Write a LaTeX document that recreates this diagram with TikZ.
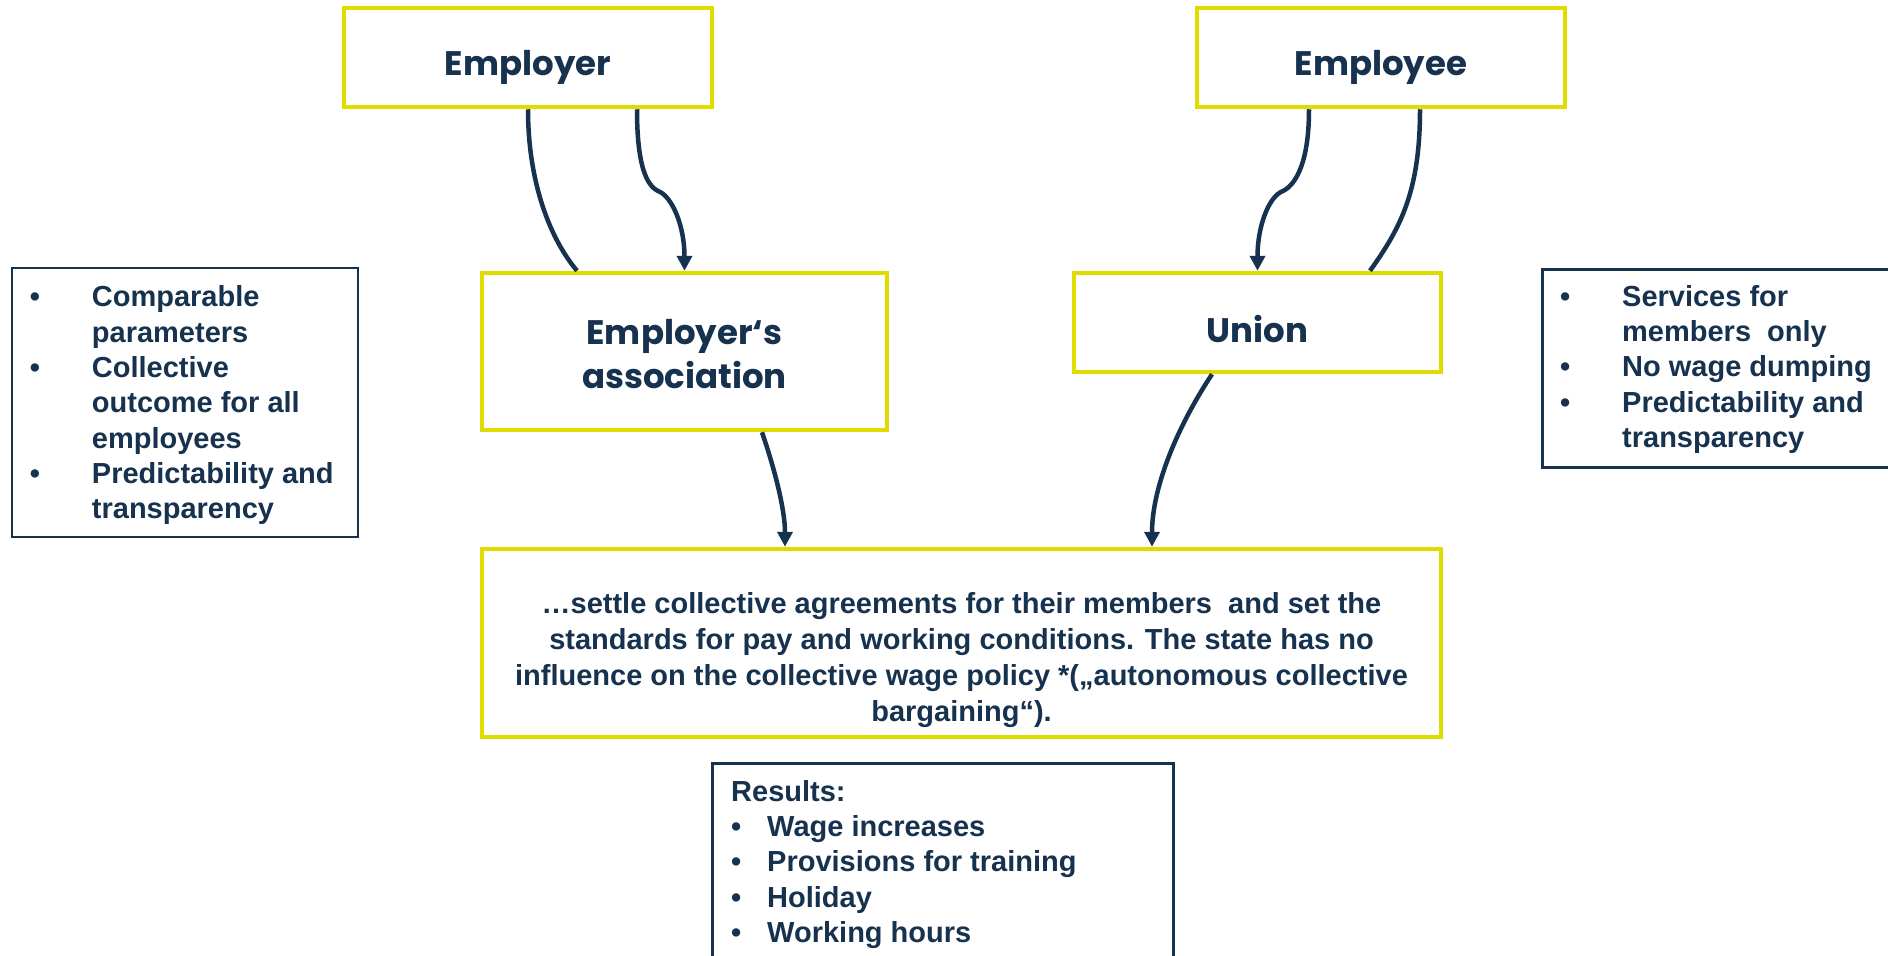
\documentclass[tikz,border=0pt]{standalone}
\usepackage{fontspec}
\setmainfont{Liberation Sans}
\newfontfamily\titlefont{Poppins}
\usetikzlibrary{arrows.meta,calc}
\definecolor{navy}{HTML}{17324F}
\definecolor{ybord}{HTML}{E0DC00}
\newcommand{\bitem}[2][62pt]{\makebox[#1][l]{\textbullet}#2}
\newcommand{\bcont}[2][62pt]{\makebox[#1][l]{}#2}
\begin{document}
\begin{tikzpicture}[x=1pt,y=-1pt,
  ybox/.style={draw=ybord,line width=4.5pt,fill=white,inner sep=0pt},
  ytext/.style={inner sep=0pt,text=navy,align=center,
    font=\titlefont\fontsize{34}{44}\selectfont\bfseries},
  nbox/.style={draw=navy,line width=2.5pt,inner sep=0pt,fill=white},
  btext/.style={inner sep=0pt,anchor=north west,text=navy,align=left,
    font=\fontsize{29}{35.3}\selectfont\bfseries},
  conn/.style={draw=navy,line width=4.5pt},
  arr/.style={conn,-{Triangle[length=15pt,width=15pt]}}]
\useasboundingbox[fill=white] (0,0) rectangle (1888,956);

\node[ybox,minimum width=368pt,minimum height=99pt] (employer) at (528,57.5) {};
\node[ytext] (employertext) at ($(employer.center)+(0,10)$) {Employer};
\node[ybox,minimum width=368pt,minimum height=99pt] (employee) at (1381,57.5) {};
\node[ytext] (employeetext) at ($(employee.center)+(0,10)$) {Employee};
\node[ybox,minimum width=405pt,minimum height=157pt] (assoc) at (684.5,351.5) {};
\node[ytext] (assoctext) at ($(assoc.center)+(0,3)$) {Employer‘s\\association};
\node[ybox,minimum width=367pt,minimum height=99pt] (union) at (1257.5,322.5) {};
\node[ytext] (uniontext) at ($(union.center)+(0,7)$) {Union};
\node[ybox,minimum width=959pt,minimum height=188pt] (central) at (961.5,643) {};
\node[ytext,font=\fontsize{29}{36}\selectfont\bfseries] (centraltext) at ($(central.center)+(0,17)$)
 {…settle collective agreements for their members \ and set the\\
  standards for pay and working conditions. The state has no\\
  influence on the collective wage policy *(„autonomous collective\\
  bargaining“).};

\node[nbox,minimum width=346pt,minimum height=269pt] (leftbox) at (185,402.5) {};
\node[btext] (lefttext) at ($(leftbox.north west)+(19,19)$)
 {\bitem{Comparable}\\ \bcont{parameters}\\ \bitem{Collective}\\ \bcont{outcome for all}\\
  \bcont{employees}\\ \bitem{Predictability and}\\ \bcont{transparency}};

\node[nbox,minimum width=370pt,minimum height=198pt,anchor=north west] (rightbox) at (1541,268) {};
\node[btext] (righttext) at ($(rightbox.north west)+(19,17)$)
 {\bitem{Services for}\\ \bcont{members \ only}\\ \bitem{No wage dumping}\\
  \bitem{Predictability and}\\ \bcont{transparency}};

\node[nbox,minimum width=461pt,minimum height=220pt,anchor=north west] (results) at (711,762) {};
\node[btext] (resultstext) at ($(results.north west)+(20,18)$)
 {Results:\\ \bitem[36pt]{Wage increases}\\ \bitem[36pt]{Provisions for training}\\
  \bitem[36pt]{Holiday}\\ \bitem[36pt]{Working hours}};

\coordinate (k1) at (658,191);
\coordinate (k2) at (1283,191);

\draw[conn] (employer.south) .. controls +(0,73) and +(-27,-32) .. ([xshift=-107.5pt]assoc.north);
\draw[arr] ([xshift=109pt]employer.south) .. controls +(0,55) and +(-12,-6) .. (k1)
  .. controls +(14,5) and +(0,-45) .. (assoc.north);
\draw[arr] ([xshift=-72pt]employee.south) .. controls +(0,55) and +(12,-6) .. (k2)
  .. controls +(-14,5) and +(0,-45) .. (union.north);
\draw[conn] ([xshift=39pt]employee.south) .. controls +(0,83) and +(30,-42) .. ([xshift=112.5pt]union.north);
\draw[arr] ([xshift=77.5pt]assoc.south) .. controls +(13,38) and +(0,-37) .. ([xshift=-176.5pt]central.north);
\draw[arr] ([xshift=-45.5pt]union.south) .. controls +(-37,56) and +(0,-57) .. ([xshift=190.5pt]central.north);
\end{tikzpicture}
\end{document}
